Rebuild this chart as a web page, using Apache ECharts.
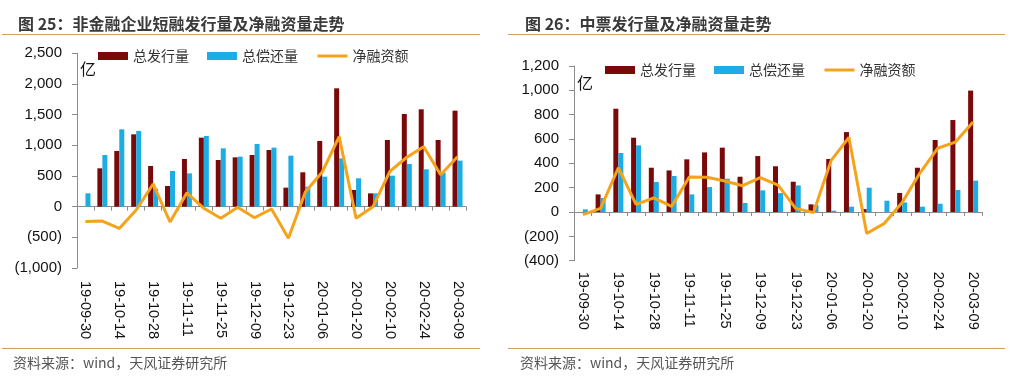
<!DOCTYPE html>
<html>
<head>
<meta charset="utf-8">
<script src="https://cdn.jsdelivr.net/npm/echarts@6/dist/echarts.min.js"></script>
<style>
  html, body { margin: 0; padding: 0; background: #fff; }
  #chart { width: 1017px; height: 377px; }
</style>
</head>
<body>
<div id="chart"></div>
<script>
// fechas semanales (eje x compartido)
const dates = ['19-09-30','19-10-07','19-10-14','19-10-21','19-10-28','19-11-04','19-11-11','19-11-18',
  '19-11-25','19-12-02','19-12-09','19-12-16','19-12-23','19-12-30','20-01-06','20-01-13',
  '20-01-20','20-02-03','20-02-10','20-02-17','20-02-24','20-03-02','20-03-09'];

// 图25 短融 (亿)
const cpIssue = [0, 625, 908, 1179, 663, 337, 777, 1125, 761, 804, 842, 924, 310, 560, 1071, 1929, 272, 217, 1087, 1511, 1587, 1087, 1565];
const cpRepay = [217, 842, 1261, 1234, 290, 581, 543, 1152, 951, 815, 1022, 962, 831, 326, 489, 788, 462, 217, 505, 696, 609, 554, 750];
const cpNet = [-240, -235, -355, -55, 370, -250, 225, -27, -190, -11, -180, -38, -516, 240, 565, 1141, -190, 0, 575, 805, 978, 520, 815];

// 图26 中票 (亿)
const mtnIssue = [0, 145, 849, 611, 364, 342, 433, 490, 529, 290, 460, 376, 249, 63, 436, 657, 24, 0, 157, 364, 592, 756, 998];
const mtnRepay = [22, 115, 485, 548, 247, 296, 145, 205, 274, 74, 178, 155, 219, 58, 11, 44, 200, 93, 79, 44, 68, 181, 258];
const mtnNet = [-22, 30, 364, 63, 117, 46, 288, 285, 255, 216, 282, 221, 30, -5, 425, 613, -176, -93, 78, 320, 524, 575, 740];

const cjk = '"Noto Sans CJK SC", sans-serif';
const num = '"Liberation Sans", Arial, sans-serif';
const axisGray = '#8c8c8c';
const gold = '#C9A55A';
const red = '#7A0A0A';
const blue = '#1DADE5';
const orange = '#F5A31A';

function fmt(v) {
    const s = Math.abs(v).toString().replace(/\B(?=(\d{3})+(?!\d))/g, ',');
    return v < 0 ? '(' + s + ')' : s;
}

function xAxisFor(gridIndex, margin) {
    return {
        type: 'category',
        gridIndex: gridIndex,
        data: dates,
        axisLine: { onZero: true, lineStyle: { color: axisGray } },
        axisTick: { show: true, interval: 0, length: 4, lineStyle: { color: axisGray } },
        axisLabel: {
            interval: 1, rotate: -90, margin: margin,
            fontFamily: num, fontSize: 14.5, color: '#111'
        }
    };
}

function yAxisFor(gridIndex, min, max, interval) {
    return {
        type: 'value',
        gridIndex: gridIndex,
        min: min, max: max, interval: interval,
        axisLine: { show: true, lineStyle: { color: axisGray } },
        axisTick: { show: true, length: 5, lineStyle: { color: axisGray } },
        splitLine: { show: false },
        axisLabel: { formatter: fmt, margin: 15, fontFamily: num, fontSize: 15, color: '#111' }
    };
}

function seriesFor(idx, issue, repay, net) {
    return [
        { name: '总发行量', type: 'bar', xAxisIndex: idx, yAxisIndex: idx, data: issue,
          barWidth: 5, barGap: '0%', itemStyle: { color: red } },
        { name: '总偿还量', type: 'bar', xAxisIndex: idx, yAxisIndex: idx, data: repay,
          barWidth: 5, barGap: '0%', itemStyle: { color: blue } },
        { name: '净融资额', type: 'line', xAxisIndex: idx, yAxisIndex: idx, data: net,
          symbol: 'none', z: 5, lineStyle: { color: orange, width: 3 }, itemStyle: { color: orange } }
    ];
}

function legendAt(left, top) {
    return {
        left: left, top: top, padding: 0, itemGap: 18,
        itemWidth: 30, itemHeight: 8,
        textStyle: { fontFamily: cjk, fontSize: 14, color: '#333' },
        data: [
            { name: '总发行量', icon: 'rect' },
            { name: '总偿还量', icon: 'rect' },
            // sin el punto en el icono de la línea
            { name: '净融资额', itemStyle: { opacity: 0 }, lineStyle: { width: 3, color: orange } }
        ]
    };
}

function hline(x1, x2, y) {
    return { type: 'line', shape: { x1: x1, y1: y, x2: x2, y2: y }, style: { stroke: gold, lineWidth: 1 } };
}

function txt(x, y, text, size, color) {
    return { type: 'text', x: x, y: y, style: { text: text, font: size + 'px ' + cjk, fill: color } };
}

const chart = echarts.init(document.getElementById('chart'));

chart.setOption({
    animation: false,
    backgroundColor: '#fff',
    title: [
        { text: '图 25：非金融企业短融发行量及净融资量走势', left: 13, top: 11,
          textStyle: { fontFamily: cjk, fontSize: 16, fontWeight: 'bold', color: '#3a3a3a' } },
        { text: '图 26：中票发行量及净融资量走势', left: 520, top: 11,
          textStyle: { fontFamily: cjk, fontSize: 16, fontWeight: 'bold', color: '#3a3a3a' } }
    ],
    legend: [legendAt(98, 49), legendAt(605, 63)],
    grid: [
        { left: 77, top: 53.3, width: 389, height: 214.7, outerBoundsMode: 'none', containLabel: false },
        { left: 574, top: 66, width: 408, height: 194.7, outerBoundsMode: 'none', containLabel: false }
    ],
    // las etiquetas se miden desde el borde inferior del grid
    xAxis: [xAxisFor(0, 13), xAxisFor(1, 11)],
    yAxis: [yAxisFor(0, -1000, 2500, 500), yAxisFor(1, -400, 1200, 200)],
    graphic: [
        hline(2, 480, 34.5), hline(508, 1005, 34.5),
        hline(2, 480, 348.5), hline(508, 1005, 348.5),
        txt(80, 61, '亿', 16, '#111'),
        txt(577, 75, '亿', 16, '#111'),
        txt(13, 356, '资料来源：wind，天风证券研究所', 14, '#555'),
        txt(520, 356, '资料来源：wind，天风证券研究所', 14, '#555')
    ],
    series: seriesFor(0, cpIssue, cpRepay, cpNet).concat(seriesFor(1, mtnIssue, mtnRepay, mtnNet))
});
</script>
</body>
</html>
